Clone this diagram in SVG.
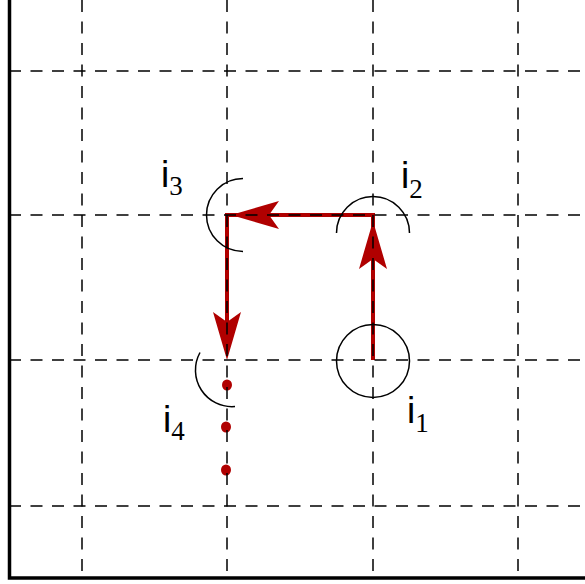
<svg xmlns="http://www.w3.org/2000/svg" xmlns:xlink="http://www.w3.org/1999/xlink" width="585" height="584" viewBox="0 0 585 584">
<style>
.grid{stroke:#000;stroke-width:1.5;stroke-dasharray:12 9.5;fill:none}
.border{stroke:#000;stroke-width:3.5;fill:none}
.ring{stroke:#000;stroke-width:1.5;fill:none}
.red{stroke:#b00000;stroke-width:4;fill:none}
.redfill{fill:#b00000}
.lbl{font-family:"Liberation Sans",Arial,sans-serif;font-size:37px;fill:#000}
.sub{font-family:"Liberation Serif","Times New Roman",serif;font-size:27px}
</style>
<defs>
<path id="ah" d="M0,0 L-48,-14 L-38,0 L-48,14 Z"/>
</defs>
<rect width="585" height="584" fill="#fff"/>
<g id="connectors">
<path class="red" d="M373,360 V215 H227 V340"/>
<use xlink:href="#ah" class="redfill" transform="translate(373,221) rotate(-90)"/>
<use xlink:href="#ah" class="redfill" transform="translate(231,215) rotate(180)"/>
<use xlink:href="#ah" class="redfill" transform="translate(227,360) rotate(90)"/>
<g class="redfill">
<ellipse cx="227" cy="385" rx="5" ry="5.5"/>
<ellipse cx="226" cy="427" rx="5" ry="5.5"/>
<ellipse cx="226" cy="470" rx="5" ry="5.5"/>
</g>
</g>
<g id="grid">
<line class="grid" x1="82" y1="0" x2="82" y2="578"/>
<line class="grid" x1="227" y1="0" x2="227" y2="578"/>
<line class="grid" x1="373" y1="0" x2="373" y2="578"/>
<line class="grid" x1="518" y1="0" x2="518" y2="578"/>
<line class="grid" x1="9" y1="71" x2="585" y2="71"/>
<line class="grid" x1="9" y1="215" x2="585" y2="215"/>
<line class="grid" x1="9" y1="360" x2="585" y2="360"/>
<line class="grid" x1="9" y1="506" x2="585" y2="506"/>
<path class="border" d="M9.5,0 V578 H585"/>
</g>
<g id="i1">
<circle class="ring" cx="373" cy="361" r="36.5"/>
<text class="lbl" x="407" y="423">i<tspan class="sub" dy="9">1</tspan></text>
</g>
<g id="i2">
<path class="ring" d="M336.5,233 A36.5,36.5 0 0 1 409.5,233"/>
<text class="lbl" x="401" y="188">i<tspan class="sub" dy="10">2</tspan></text>
</g>
<g id="i3">
<path class="ring" d="M243,178.5 A36.5,36.5 0 0 0 243,251.5"/>
<text class="lbl" x="161" y="187">i<tspan class="sub" dy="8">3</tspan></text>
</g>
<g id="i4">
<path class="ring" d="M200,352.5 A36.5,36.5 0 0 0 235,406.5"/>
<text class="lbl" x="163" y="432">i<tspan class="sub" dy="8">4</tspan></text>
</g>
</svg>
